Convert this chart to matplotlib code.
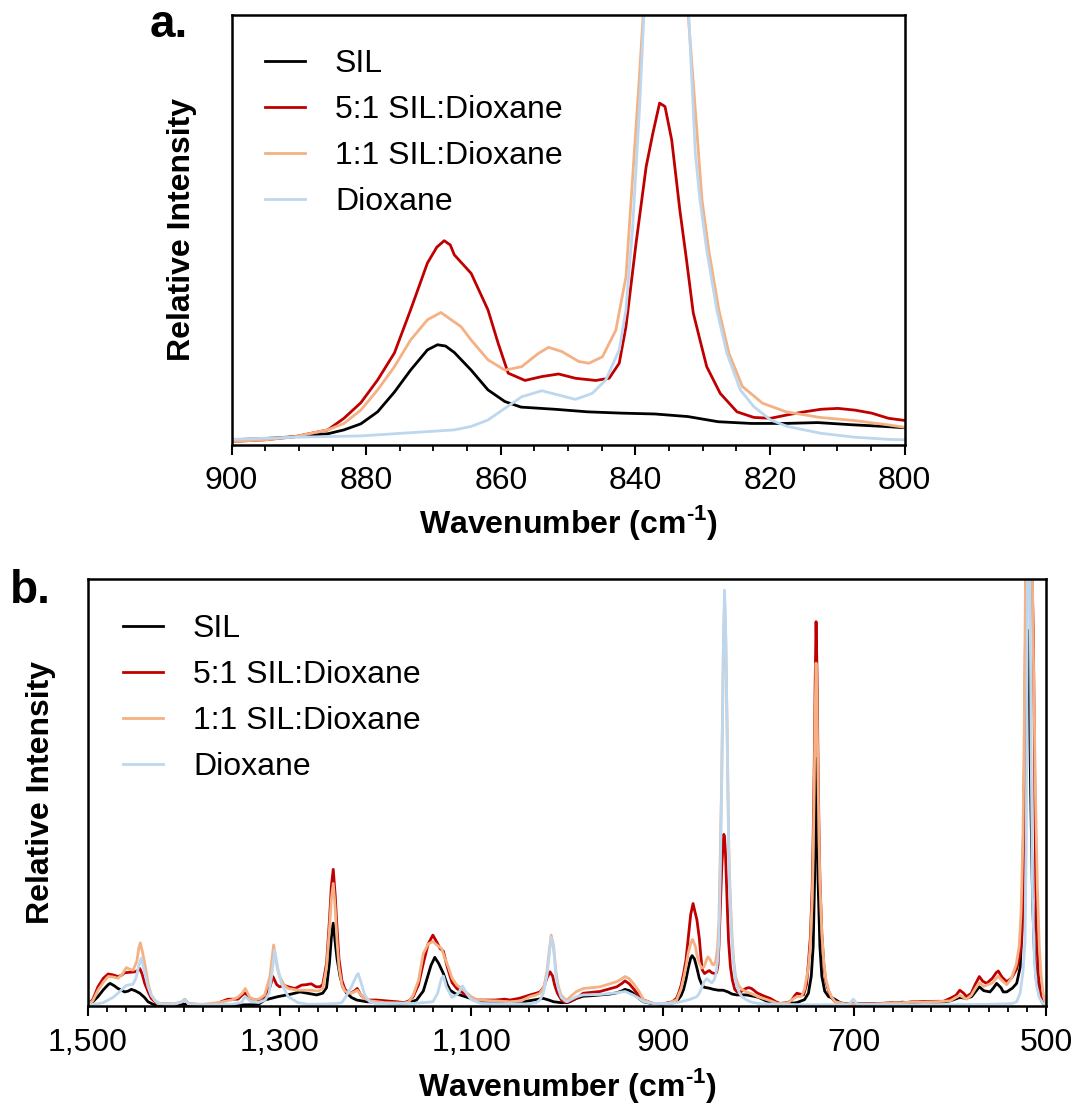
import matplotlib
matplotlib.use("Agg")
import matplotlib.pyplot as plt
from matplotlib.ticker import MultipleLocator, FuncFormatter

plt.rcParams['font.family'] = ['Liberation Sans', 'DejaVu Sans']
plt.rcParams['mathtext.fontset'] = 'custom'
plt.rcParams['mathtext.rm'] = 'Liberation Sans'
plt.rcParams['mathtext.bf'] = 'Liberation Sans:bold'

labels = ["SIL", "5:1 SIL:Dioxane", "1:1 SIL:Dioxane", "Dioxane"]
colors = ["#000000", "#C00000", "#F4B183", "#BDD7EE"]

# ---- panel a: 900-800 cm-1 (relative intensity, axis top = 100) ----
a_sil_wn = [900, 895, 890.7, 885.7, 883.3, 880.8, 878.3, 875.8, 873.4, 870.9, 869.4, 868.2,
            866.9, 864.4, 861.9, 859.4, 857, 852, 847.1, 842.1, 837.1, 832.2, 827.7, 822.8,
            817.8, 812.9, 807.9, 803, 800]
a_sil = [1.2, 1.5, 1.9, 2.6, 3.5, 4.9, 7.7, 12.3, 17.4, 22.1, 23.3, 23.0,
         21.5, 17.4, 12.8, 10.1, 8.8, 8.3, 7.7, 7.4, 7.2, 6.6, 5.4, 5.0,
         5.0, 5.2, 4.7, 4.3, 4.0]

a_51_wn = [900, 895, 890.7, 885.7, 883.3, 880.8, 878.3, 875.8, 873.4, 870.9, 869.5, 868.4,
           867.5, 866.9, 864.4, 861.9, 860.4, 858.9, 856.4, 853.9, 851.4, 848.9, 845.9, 843.9,
           842.4, 841.4, 839.9, 838.4, 837.4, 836.4, 835.6, 834.6, 833.4, 832.4, 831.4, 830.4,
           829.4, 827.4, 824.9, 822.4, 819.9, 817.4, 814.9, 812.4, 809.9, 807.4, 804.9, 802.4, 800]
a_51 = [0.8, 1.2, 1.9, 3.5, 6.2, 9.8, 15.1, 21.4, 31.4, 42.3, 46.0, 47.5,
        46.5, 44.2, 39.9, 31.4, 23.7, 16.7, 15.0, 15.9, 16.5, 15.5, 15.0, 15.5,
        19.0, 27.5, 46.9, 64.7, 72.5, 79.5, 78.7, 70.9, 54.7, 43.0, 30.7, 24.4,
        18.2, 12.0, 7.7, 6.4, 6.2, 7.0, 7.7, 8.3, 8.5, 8.1, 7.4, 6.2, 5.7]

a_11_wn = [900, 895, 890.7, 885.7, 883.3, 880.8, 878.3, 875.8, 873.4, 870.9, 868.9, 865.9,
           864.4, 861.9, 859.4, 856.9, 854.4, 852.9, 850.9, 848.4, 846.9, 844.9, 842.9, 841.4,
           840.4, 839.4, 838.8, 838, 837, 836, 835, 834, 833, 832.2, 830.1, 829.1, 827.6,
           826.1, 824.1, 821.1, 817.6, 812.6, 807.6, 802.6, 800]
a_11 = [0.8, 1.2, 1.9, 3.5, 5.0, 8.1, 12.8, 18.2, 24.4, 29.1, 30.8, 27.5,
        24.4, 19.8, 17.4, 18.2, 21.3, 22.7, 21.7, 19.4, 19.0, 20.5, 26.7, 39.1,
        62.4, 85.7, 101, 125, 148, 158, 155, 140, 120, 101, 57.0, 45.3, 31.4,
        21.3, 13.6, 9.7, 7.7, 6.4, 5.7, 4.7, 4.1]

a_dx_wn = [900, 890.7, 880.8, 870.9, 866.9, 864.4, 861.9, 859.4, 856.9, 853.9, 851.4, 848.9,
           846.4, 844.4, 842.4, 841.4, 840.4, 839.4, 838.7, 837.5, 836.5, 835.4, 834.3, 833.2,
           832.1, 831.1, 830.4, 829.4, 827.9, 826.4, 824.4, 822.4, 819.9, 817.4, 812.4, 807.4,
           802.4, 800]
a_dx = [1.3, 1.8, 2.1, 3.1, 3.5, 4.3, 5.8, 8.5, 11.2, 12.6, 11.6, 10.6,
        12.0, 15.1, 22.1, 31.4, 50.8, 77.9, 101, 150, 180, 194, 180, 150,
        101, 67.9, 57.0, 45.3, 31.4, 21.3, 12.8, 8.9, 5.8, 4.3, 2.7, 1.8,
        1.3, 1.2]

# ---- panel b: 1500-500 cm-1 ----
b_sil_wn = [1500, 1495, 1489.6, 1484, 1479, 1477, 1473, 1468.7, 1461.7, 1458, 1454.8, 1451,
            1446, 1441, 1437.4, 1432, 1427, 1400, 1360, 1330, 1322, 1315.6, 1301.7, 1287.8,
            1278.7, 1273.8, 1261.3, 1255, 1251, 1248, 1246, 1244, 1242, 1240, 1237, 1234,
            1230, 1225, 1219.5, 1209, 1190, 1174, 1165, 1157, 1150, 1146.5, 1142, 1138,
            1134, 1129, 1125, 1122, 1116, 1111.7, 1101, 1091, 1080, 1070, 1050, 1040,
            1035, 1030, 1025, 1019, 1014, 1007, 1000, 997, 990, 983, 975, 965.6,
            955, 948, 942, 939.5, 935, 930.8, 925, 920.4, 912, 900, 890, 885.5,
            880.8, 878.3, 875.8, 873.4, 870.9, 869.4, 866.9, 864.4, 861.9, 859.4, 857, 852,
            847, 842, 837, 832, 827.7, 822.8, 812.9, 807.9, 803, 800, 790, 781,
            770, 760, 752, 748, 745, 743, 741.5, 740, 739, 738, 736, 734,
            731, 727, 722, 715, 710, 660, 650, 640, 628, 615, 605, 600,
            590, 583, 577.6, 573, 569.6, 565, 558.5, 555, 551.5, 547, 544.6, 541,
            535, 530.6, 527, 525, 523.7, 522, 520.5, 519, 517.5, 516, 514, 512,
            510, 507, 504, 500]
b_sil = [0.6, 1.0, 2.2, 3.8, 5.0, 5.3, 4.8, 4.1, 3.3, 3.5, 3.9, 3.6,
         3.0, 2.0, 1.0, 0.4, 0.2, 0.4, 0.2, 0.3, 0.4, 1.4, 2.2, 2.8,
         3.3, 3.1, 2.6, 3.0, 4.3, 10, 16, 19.4, 15, 11, 7, 4.5,
         3.0, 2.0, 1.4, 1.0, 0.8, 0.6, 0.8, 1.4, 3.5, 6.1, 9.5, 11.4,
         10, 7.6, 5.0, 3.7, 2.8, 2.6, 1.8, 1.0, 0.7, 0.6, 0.8, 1.2,
         1.4, 1.6, 1.8, 1.4, 1.0, 0.8, 0.8, 1.0, 1.8, 2.3, 2.4, 2.6,
         2.8, 3.1, 3.6, 3.9, 3.6, 3.0, 1.8, 1.0, 0.6, 0.5, 0.7, 1.0,
         2.5, 3.9, 6.2, 8.9, 11.2, 11.8, 11.0, 8.9, 6.5, 5.1, 4.4, 4.2,
         3.9, 3.7, 3.7, 3.3, 2.8, 2.6, 2.6, 2.4, 2.2, 2.0, 1.0, 0.6,
         0.5, 0.8, 1.5, 3.0, 7, 14, 30, 58, 45, 30, 14, 7,
         3.5, 2.2, 1.8, 0.8, 0.5, 0.6, 0.9, 0.7, 1.0, 0.9, 1.0, 1.2,
         2.0, 1.8, 2.2, 3.5, 4.5, 3.6, 3.3, 4.2, 5.3, 4.3, 3.3, 3.3,
         4.2, 5.3, 9, 18, 38.5, 65, 85, 88, 75, 50, 25, 12,
         6, 2.5, 1.0, 0.5]

b_51_wn = [1500, 1495, 1489.6, 1484, 1479, 1474, 1468.7, 1465, 1461.7, 1456, 1451.3, 1448,
           1446, 1443.5, 1440.8, 1437, 1434, 1430, 1427, 1410, 1402, 1399, 1395, 1380,
           1370, 1365, 1361, 1354, 1343.5, 1336.4, 1332, 1326, 1320, 1315.6, 1310, 1307,
           1303, 1300, 1295, 1291, 1284, 1277, 1272, 1267, 1262, 1258, 1255, 1251,
           1248, 1246, 1244, 1242, 1240, 1238, 1235, 1232, 1228, 1226, 1222, 1219,
           1215, 1209, 1199, 1178, 1170, 1165, 1160.5, 1155, 1150, 1145, 1140, 1136,
           1132.6, 1129, 1126, 1124, 1120, 1115, 1108, 1100, 1094, 1085, 1075, 1065,
           1059.5, 1050, 1044, 1038.6, 1032, 1028.2, 1024, 1021, 1017.7, 1015, 1013, 1010,
           1006, 1002, 998, 993, 990, 983, 965.6, 948, 942, 939.5, 935, 930.8,
           925, 920, 910, 900, 890, 885.7, 883.3, 880.8, 878.3, 875.8, 873.4, 870.9,
           868.4, 866.9, 864.4, 861.9, 860.4, 858.9, 856.4, 853.9, 851.4, 848.9, 845.9, 843.9,
           842.4, 841.4, 839.9, 838.4, 837.4, 836.4, 835.6, 834.6, 833.4, 832.4, 831.4, 830.4,
           829.4, 827.4, 824.9, 822.4, 819.9, 817.4, 814.9, 812.4, 809.9, 807.4, 804.9, 802.4,
           800, 794, 788, 782, 777.7, 770, 766, 762, 760, 757, 753, 750,
           748, 746, 744, 743, 742, 741, 740, 739, 738, 737, 736, 734,
           732, 730, 727, 724, 720, 710, 680, 660, 652, 640, 628, 615,
           607, 600, 594, 590, 586, 582.8, 578, 574, 569.6, 566, 561.9, 556,
           552, 549.8, 546, 541, 536, 530.6, 527.5, 525.4, 524, 522.5, 521, 519,
           517, 515, 513.2, 512, 511, 510, 508, 505, 502.8, 500]
b_51 = [0.4, 1.5, 4.5, 6.5, 7.5, 7.3, 6.9, 7.2, 7.8, 7.9, 8.0, 8.3,
        8.8, 7.5, 5.3, 3.2, 1.8, 1.0, 0.5, 0.4, 0.9, 1.5, 0.5, 0.3,
        0.4, 0.6, 1.0, 1.6, 1.6, 3.1, 2.0, 1.4, 1.6, 2.2, 4.5, 6.9,
        5.0, 4.5, 4.8, 4.5, 4.1, 4.9, 5.0, 5.2, 4.5, 4.5, 5.0, 10,
        20, 28, 32, 26, 18, 11, 6, 4, 3, 3, 3.5, 4.1,
        2.5, 1.4, 1.4, 1.0, 0.8, 1.2, 2.2, 5, 10, 14.5, 16.6, 15,
        13.5, 12.8, 10, 8.4, 5.5, 4.1, 3.0, 2.0, 1.4, 1.4, 1.4, 1.6,
        1.4, 1.8, 2.2, 2.6, 3.0, 3.3, 4.5, 6.5, 8.0, 7.0, 5.0, 3.0,
        1.5, 0.8, 1.0, 1.5, 1.8, 3.0, 3.4, 4.5, 5.4, 5.9, 5.2, 4.1,
        2.5, 1.4, 0.6, 0.5, 1.0, 1.8, 3.1, 4.9, 7.6, 10.8, 15.9, 21.4,
        24.0, 22.5, 20.2, 15.9, 12.0, 8.5, 7.6, 8.0, 8.3, 7.8, 7.6, 7.8,
        9.6, 13.9, 23.7, 32.8, 36.7, 40.2, 39.8, 35.9, 27.7, 21.5, 15.4, 12.4,
        9.2, 6.1, 3.9, 3.3, 3.2, 3.5, 3.9, 4.2, 4.3, 4.1, 3.7, 3.2,
        2.9, 2.3, 1.8, 1.0, 0.6, 0.8, 1.2, 2.5, 3.0, 2.8, 2.6, 5,
        10, 16, 28, 40, 55, 75, 90, 78, 58, 42, 30, 17,
        10, 6, 3.5, 2, 1, 0.5, 0.5, 0.8, 0.6, 1.0, 1.0, 1.1,
        1.1, 1.8, 2.5, 3.7, 3.0, 2.2, 3.0, 5.0, 6.9, 5.8, 5.3, 6.5,
        7.8, 8.2, 6.8, 5.7, 6.5, 8.7, 11.5, 15.1, 25, 55, 100, 140,
        130, 105, 87.7, 60, 35, 18, 7.3, 2.0, 0.5, 0.3]

b_11_wn = [1500, 1495, 1489.6, 1484, 1479, 1474, 1468.7, 1464, 1460, 1456, 1453, 1449,
           1447, 1445.4, 1443, 1440.2, 1437, 1434, 1430, 1427, 1410, 1402, 1399, 1395,
           1380, 1364, 1350.4, 1344, 1339, 1335.8, 1331, 1326, 1320, 1315.6, 1310, 1308,
           1306.2, 1304, 1302, 1300, 1295, 1291, 1281, 1267, 1260, 1255, 1251, 1248,
           1246, 1244, 1242, 1240, 1238, 1235, 1232, 1226, 1222, 1219, 1212, 1205,
           1190, 1170, 1165, 1160.5, 1155, 1150, 1145, 1140, 1136, 1131, 1128, 1124,
           1120, 1115, 1108, 1100, 1094, 1075, 1059.5, 1048, 1038.6, 1032, 1028.2, 1024,
           1021, 1019, 1016.5, 1014, 1011.5, 1009, 1006, 1002, 1000, 995, 990, 983,
           965.6, 948, 942, 939.5, 935, 930.8, 925, 920, 910, 895, 885.5, 880.8,
           878.3, 875.8, 873.4, 870.9, 868.9, 865.9, 864.4, 861.9, 859.4, 856.9, 854.4, 852.9,
           850.9, 848.4, 846.9, 844.9, 842.9, 841.4, 840.4, 839.4, 838.6, 837.6, 836.6, 835.5,
           834.3, 833.2, 832.1, 831.1, 830.1, 829.1, 827.6, 826.1, 824.1, 821.1, 817.6, 812.6,
           807.6, 802.6, 800, 790, 780, 770, 763, 760, 755, 752, 748, 746,
           744, 743, 742, 741, 740, 739, 738, 737, 736, 734, 732, 730,
           727, 724, 720, 710, 680, 660, 640, 628, 615, 600, 594, 590,
           583, 578, 574, 569.6, 565, 556, 550, 546, 541, 536, 531, 528,
           526, 524, 522.5, 521, 519, 517, 515, 513, 511, 509, 507, 505,
           503, 501, 500]
b_11 = [0.4, 1.2, 3.7, 5.6, 6.9, 6.8, 6.5, 7.5, 9.0, 8.6, 8.4, 10.5,
        13.5, 14.8, 12.5, 9.2, 5.0, 2.6, 1.2, 0.5, 0.5, 1.0, 1.5, 0.5,
        0.4, 0.8, 1.4, 2.0, 3.0, 4.1, 2.0, 1.4, 1.8, 2.6, 7.0, 11,
        14.3, 11, 8.5, 6.9, 4.8, 4.1, 3.7, 3.7, 3.5, 4.0, 9, 18,
        25, 28.7, 23, 15, 9, 5, 3.5, 3.0, 3.3, 3.7, 1.8, 1.2,
        0.8, 0.7, 1.0, 2.6, 6, 12.3, 14.5, 15.1, 14.3, 13.5, 11.5, 9.2,
        6.5, 4.9, 3.7, 2.2, 1.4, 1.2, 1.0, 1.2, 2.2, 2.6, 3.0, 4.5,
        8, 12, 16.6, 14, 8, 4.5, 2.5, 1.6, 1.4, 2.5, 3.4, 4.1,
        4.5, 5.7, 6.5, 6.9, 6.4, 5.3, 3.5, 1.4, 0.6, 0.6, 1.4, 4.1,
        6.5, 9.2, 12.4, 14.7, 15.6, 13.9, 12.0, 10.0, 8.9, 9.2, 10.8, 11.5,
        11.0, 9.8, 9.6, 10.4, 13.5, 19.8, 31.6, 43.4, 52, 70, 86, 95,
        86, 70, 52, 37, 28.9, 23, 15.9, 10.8, 6.9, 4.9, 3.9, 3.3,
        2.9, 2.4, 2.1, 1.4, 0.6, 0.7, 1.8, 2.2, 2.3, 4.0, 9, 14,
        25, 35, 50, 68, 80.3, 70, 54, 40, 29, 17, 10.5, 6.5,
        3.8, 2.2, 1.0, 0.5, 0.5, 0.7, 0.9, 0.9, 1.0, 1.2, 2.0, 2.5,
        1.6, 2.5, 4.0, 5.5, 4.6, 5.4, 7.0, 6.0, 5.0, 6.5, 9.8, 14,
        22, 40, 70, 110, 150, 140, 115, 80, 50, 28, 14, 7,
        3, 1, 0.6]

b_dx_wn = [1500, 1490, 1484, 1479, 1474, 1468.7, 1464, 1460, 1456, 1453, 1450, 1447,
           1444.4, 1441, 1437.4, 1434, 1430.4, 1425, 1420, 1410, 1402, 1399, 1395, 1380,
           1350, 1340, 1335.8, 1330, 1322, 1315, 1311, 1308, 1305.2, 1302, 1298.2, 1291,
           1281, 1270, 1250, 1240, 1235, 1230, 1225, 1220, 1218, 1215, 1211, 1206,
           1200, 1160, 1140, 1135, 1131, 1129, 1126, 1120, 1114, 1109, 1105, 1100,
           1090, 1060, 1040, 1032, 1028, 1024.7, 1021, 1019, 1016.5, 1014, 1011.5, 1009,
           1006, 1002, 1000, 995, 990, 983, 965.6, 948, 939.5, 931, 925, 920,
           910, 890, 880.8, 870.9, 864.4, 861.9, 859.4, 856.9, 853.9, 851.4, 848.9, 846.4,
           844.4, 842.4, 841.4, 840.4, 839.4, 838.6, 837.6, 836.6, 835.5, 834.3, 833.2, 832.1,
           831.1, 830.4, 829.4, 827.9, 826.4, 824.4, 822.4, 819.9, 817.4, 812.4, 807.4, 800,
           780, 750, 720, 706, 701, 697, 650, 600, 560, 545, 535, 530.6,
           527, 524, 521.9, 520.5, 519, 518, 517, 515.5, 514, 512, 510, 507,
           503, 500]
b_dx = [0.4, 0.5, 0.8, 1.4, 2.0, 3.0, 4.0, 4.8, 5.0, 5.1, 6.5, 9.5,
        11.2, 8.0, 4.5, 2.5, 1.4, 0.6, 0.4, 0.4, 1.0, 1.5, 0.5, 0.3,
        0.4, 0.8, 2.2, 1.0, 0.8, 1.4, 3.0, 7.5, 13.1, 9.0, 5.3, 2.2,
        0.8, 0.4, 0.5, 0.6, 0.8, 2.5, 4.5, 7.0, 7.6, 5.5, 2.5, 1.0,
        0.6, 0.6, 1.0, 3.0, 6.5, 7.0, 4.5, 2.0, 2.8, 4.7, 3.0, 1.5,
        0.6, 0.5, 0.5, 0.8, 1.5, 3.0, 7.0, 11, 16.2, 13.5, 7.0, 4.0,
        2.0, 1.2, 1.0, 1.6, 2.2, 2.6, 2.7, 3.1, 3.4, 2.6, 1.8, 1.0,
        0.6, 0.6, 1.0, 1.6, 2.2, 3.0, 4.3, 5.7, 6.4, 5.9, 5.4, 6.1,
        7.6, 11.2, 15.9, 25.7, 39.5, 51, 70, 87, 97.4, 87, 70, 51,
        34.4, 28.9, 23, 15.9, 10.8, 6.5, 4.5, 3.0, 2.2, 1.4, 0.9, 0.6,
        0.4, 0.3, 0.3, 0.4, 1.6, 0.4, 0.3, 0.3, 0.4, 0.5, 0.6, 1.0,
        3.0, 8.0, 15.1, 40, 120, 130, 110, 60, 25, 10, 5, 2,
        0.6, 0.4]

a_ticks = [900, 880, 860, 840, 820, 800]
b_ticks = [1500, 1300, 1100, 900, 700, 500]

panel_a = [(a_sil_wn, a_sil), (a_51_wn, a_51), (a_11_wn, a_11), (a_dx_wn, a_dx)]
panel_b = [(b_sil_wn, b_sil), (b_51_wn, b_51), (b_11_wn, b_11), (b_dx_wn, b_dx)]

fig = plt.figure(figsize=(10.76, 11.06), dpi=100)
ax1 = fig.add_axes([0.2152, 0.5977, 0.6255, 0.3888])
ax2 = fig.add_axes([0.0818, 0.0904, 0.8903, 0.3861])

xlabel = 'Wavenumber (cm$^{\\mathbf{\u2010 1}}$)'


def draw(ax, series, xlim, ticks, minor, fmt, legend_xy, ylab_x, xlab_y):
    for (wn, val), lab, c in zip(series, labels, colors):
        ax.plot(wn, val, color=c, lw=2.0, label=lab)
    ax.set_xlim(*xlim)
    ax.set_ylim(0, 100)
    ax.set_yticks([])
    ax.set_xticks(ticks)
    ax.xaxis.set_minor_locator(MultipleLocator(minor))
    ax.xaxis.set_major_formatter(FuncFormatter(fmt))
    ax.tick_params(axis='x', which='major', direction='out', length=7.5, width=1.5,
                   labelsize=23, pad=8)
    ax.tick_params(axis='x', which='minor', direction='out', length=4.5, width=1.3)
    for s in ax.spines.values():
        s.set_linewidth(1.8)
    ax.set_xlabel(xlabel, fontsize=23, fontweight='bold')
    ax.set_ylabel('Relative Intensity', fontsize=23, fontweight='bold')
    ax.yaxis.set_label_coords(ylab_x, 0.5)
    ax.xaxis.set_label_coords(0.5, xlab_y)
    ax.legend(loc='upper left', bbox_to_anchor=legend_xy, frameon=False, fontsize=23,
              borderpad=0, borderaxespad=0, handlelength=1.25, handletextpad=0.94,
              labelspacing=0.5)


draw(ax1, panel_a, (900, 800), a_ticks, 5, lambda v, p: f"{int(round(v))}",
     (0.0498, 0.920), -0.0513, -0.1347)
draw(ax2, panel_b, (1500, 500), b_ticks, 20, lambda v, p: f"{int(round(v)):,}",
     (0.0365, 0.917), -0.0334, -0.1405)

fig.text(150 / 1076, 1 - 37 / 1106, 'a.', fontsize=33, fontweight='bold', va='baseline')
fig.text(10 / 1076, 1 - 603 / 1106, 'b.', fontsize=33, fontweight='bold', va='baseline')

fig.savefig("out.png", dpi=100)
